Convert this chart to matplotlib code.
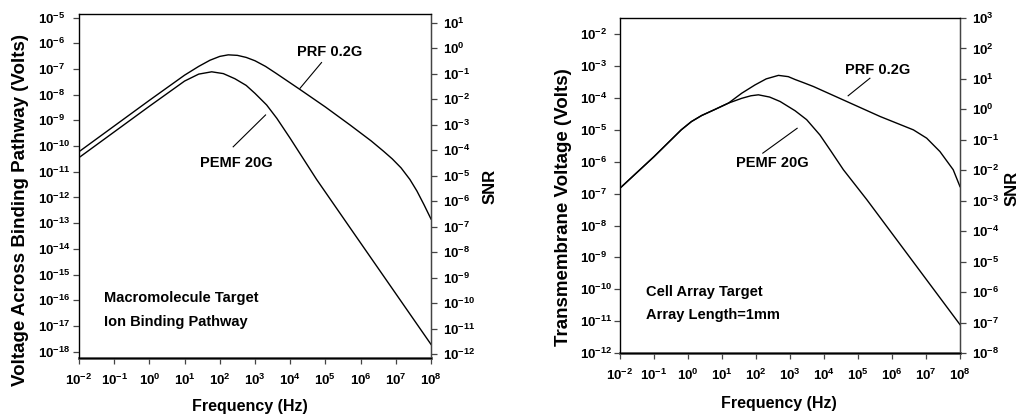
import numpy as np
import matplotlib
matplotlib.use("Agg")
import matplotlib.pyplot as plt
from matplotlib.ticker import FixedLocator, FuncFormatter, NullLocator

plt.rcParams["font.family"] = ["Liberation Sans", "DejaVu Sans"]
plt.rcParams["font.weight"] = "bold"
plt.rcParams["mathtext.fontset"] = "custom"
plt.rcParams["mathtext.bf"] = "Liberation Sans:bold"
plt.rcParams["mathtext.rm"] = "Liberation Sans:bold"

# ---- data (log10 frequency in Hz, log10 voltage in V) ----
# left panel: macromolecule target, ion binding pathway
mac_prf_logf = [-2.0, 0.0, 1.0, 1.40, 1.72, 2.00, 2.24, 2.50, 2.75, 3.00, 3.30, 3.60,
                4.28, 5.00, 5.70, 6.30, 6.65, 6.90, 7.15, 7.40, 7.60, 7.80, 8.0]
mac_prf_logv = [-10.22, -8.22, -7.24, -6.90, -6.66, -6.51, -6.45, -6.47, -6.55, -6.68, -6.90, -7.17,
                -7.80, -8.48, -9.18, -9.80, -10.20, -10.50, -10.85, -11.30, -11.75, -12.28, -12.84]
mac_pemf_logf = [-2.0, 0.0, 1.0, 1.40, 1.77, 2.10, 2.43, 2.75, 3.00, 3.33, 3.62, 4.00, 4.75, 5.70, 8.0]
mac_pemf_logv = [-10.45, -8.45, -7.47, -7.20, -7.11, -7.18, -7.38, -7.64, -7.95, -8.40, -8.92, -9.70,
                 -11.30, -13.18, -17.72]

# right panel: cell array target, 1 mm
cell_prf_logf = [-2.0, -1.0, -0.20, 0.10, 0.40, 0.79, 1.19, 1.58, 1.97, 2.30, 2.66, 2.95, 3.15, 3.40,
                 3.69, 4.67, 5.65, 6.63, 7.02, 7.41, 7.80, 8.0]
cell_prf_logv = [-6.83, -5.84, -5.00, -4.74, -4.55, -4.36, -4.16, -3.85, -3.59, -3.40, -3.29, -3.33,
                 -3.42, -3.52, -3.64, -4.11, -4.58, -5.00, -5.26, -5.68, -6.25, -6.78]
cell_pemf_logf = [-2.0, -1.0, -0.20, 0.10, 0.40, 0.79, 1.19, 1.58, 1.85, 2.07, 2.40, 2.71, 3.15, 3.49,
                  3.88, 4.20, 4.57, 5.26, 8.0]
cell_pemf_logv = [-6.83, -5.84, -5.00, -4.74, -4.55, -4.36, -4.16, -4.01, -3.93, -3.90, -3.97, -4.11,
                  -4.40, -4.68, -5.16, -5.66, -6.25, -7.19, -11.11]

# tick exponents
freq_exp = list(range(-2, 9))
mac_volt_exp = list(range(-18, -4))
mac_snr_exp = list(range(-12, 2))
cell_volt_exp = list(range(-12, -1))
cell_snr_exp = list(range(-8, 4))

W, H = 1019, 417
fig = plt.figure(figsize=(W / 100, H / 100), dpi=100)

TICK_FS = 9.5
NOTE_FS = 10.5


def px_axes(l, t, r, b):
    return fig.add_axes([l / W, 1 - b / H, (r - l) / W, (b - t) / H])


def pow_fmt(v, pos):
    return r"$\mathbf{10^{%d}}$" % int(round(np.log10(v)))


def style(ax, tw, left_pad):
    for s in ax.spines.values():
        s.set_color("#444444")
        s.set_linewidth(1.0)
    ax.spines["bottom"].set_linewidth(2.0)
    ax.spines["bottom"].set_color("#555555")
    ax.tick_params(axis="both", which="major", labelsize=TICK_FS, length=4.5,
                   width=0.9, color="#444444", direction="out")
    ax.tick_params(axis="x", pad=6)
    ax.tick_params(axis="y", pad=left_pad)
    for lbl in ax.get_yticklabels():
        lbl.set_ha("left")
    tw.tick_params(axis="y", which="major", labelsize=TICK_FS, length=4.5,
                   width=0.9, color="#444444", direction="out", pad=4)
    tw.spines["right"].set_color("#444444")


def draw(ax, logf_a, logv_a, logf_b, logv_b, volt_exp, snr_exp, ylim, snr_lim):
    ax.plot(10.0 ** np.array(logf_a), 10.0 ** np.array(logv_a), color="black", lw=1.0)
    ax.plot(10.0 ** np.array(logf_b), 10.0 ** np.array(logv_b), color="black", lw=1.0)
    ax.set_xscale("log")
    ax.set_yscale("log")
    ax.set_xlim(10.0 ** freq_exp[0], 10.0 ** freq_exp[-1])
    ax.set_ylim(10.0 ** ylim[0], 10.0 ** ylim[1])
    ax.xaxis.set_major_locator(FixedLocator([10.0 ** e for e in freq_exp]))
    ax.yaxis.set_major_locator(FixedLocator([10.0 ** e for e in volt_exp]))
    ax.xaxis.set_minor_locator(NullLocator())
    ax.yaxis.set_minor_locator(NullLocator())
    ax.xaxis.set_major_formatter(FuncFormatter(pow_fmt))
    ax.yaxis.set_major_formatter(FuncFormatter(pow_fmt))
    tw = ax.twinx()
    tw.set_yscale("log")
    tw.set_ylim(10.0 ** snr_lim[0], 10.0 ** snr_lim[1])
    tw.yaxis.set_major_locator(FixedLocator([10.0 ** e for e in snr_exp]))
    tw.yaxis.set_minor_locator(NullLocator())
    tw.yaxis.set_major_formatter(FuncFormatter(pow_fmt))
    return tw


def label_with_leader(ax, text, txt_xy, p0, p1):
    ax.text(10.0 ** txt_xy[0], 10.0 ** txt_xy[1], text, ha="center", va="center",
            fontsize=NOTE_FS, fontweight="bold")
    ax.plot([10.0 ** p0[0], 10.0 ** p1[0]], [10.0 ** p0[1], 10.0 ** p1[1]],
            color="black", lw=0.8)


# ---- left panel ----
ax1 = px_axes(79, 14, 431, 358)
tw1 = draw(ax1, mac_prf_logf, mac_prf_logv, mac_pemf_logf, mac_pemf_logv,
           mac_volt_exp, mac_snr_exp, (-18.25, -4.86), (-12.15, 1.345))
style(ax1, tw1, 25)
label_with_leader(ax1, "PRF 0.2G", (5.13, -6.34), (4.89, -6.75), (4.28, -7.75))
label_with_leader(ax1, "PEMF 20G", (2.47, -10.66), (2.38, -10.03), (3.30, -8.79))
ax1.text(0.071, 0.174, "Macromolecule Target", transform=ax1.transAxes,
         fontsize=NOTE_FS, fontweight="bold", va="center")
ax1.text(0.071, 0.106, "Ion Binding Pathway", transform=ax1.transAxes,
         fontsize=NOTE_FS, fontweight="bold", va="center")

fig.text(20.5 / W, 1 - 210 / H, "Voltage Across Binding Pathway (Volts)", rotation=90,
         ha="center", va="center", fontsize=13.5, fontweight="bold")
fig.text(250 / W, 1 - 406.7 / H, "Frequency (Hz)", ha="center", va="center",
         fontsize=11.5, fontweight="bold")
fig.text(490 / W, 1 - 186 / H, "SNR", rotation=90, ha="center", va="center",
         fontsize=12, fontweight="bold")

# ---- right panel ----
ax2 = px_axes(620, 18, 960, 353)
tw2 = draw(ax2, cell_prf_logf, cell_prf_logv, cell_pemf_logf, cell_pemf_logv,
           cell_volt_exp, cell_snr_exp, (-12.0, -1.49), (-8.0, 3.0))
style(ax2, tw2, 24)
label_with_leader(ax2, "PRF 0.2G", (5.57, -3.12), (5.35, -3.38), (4.71, -3.93))
label_with_leader(ax2, "PEMF 20G", (2.49, -6.03), (2.20, -5.73), (3.21, -4.95))
ax2.text(0.0756, 0.183, "Cell Array Target", transform=ax2.transAxes,
         fontsize=NOTE_FS, fontweight="bold", va="center")
ax2.text(0.0756, 0.113, "Array Length=1mm", transform=ax2.transAxes,
         fontsize=NOTE_FS, fontweight="bold", va="center")

fig.text(563 / W, 1 - 207 / H, "Transmembrane Voltage (Volts)", rotation=90,
         ha="center", va="center", fontsize=13.5, fontweight="bold")
fig.text(779 / W, 1 - 403.3 / H, "Frequency (Hz)", ha="center", va="center",
         fontsize=11.5, fontweight="bold")
fig.text(1011.7 / W, 1 - 188 / H, "SNR", rotation=90, ha="center", va="center",
         fontsize=12, fontweight="bold")

fig.savefig("out.png", dpi=100)
